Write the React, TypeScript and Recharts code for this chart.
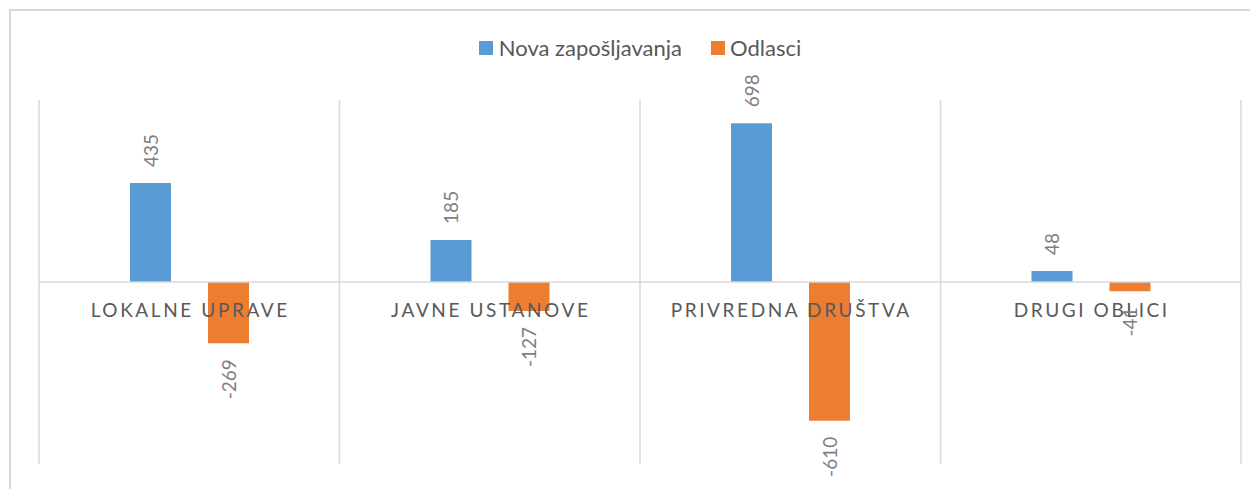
import React from 'react';
import { BarChart, Bar, XAxis, YAxis, CartesianGrid, Legend, LabelList, ReferenceLine } from 'recharts';

const categories = ['LOKALNE UPRAVE', 'JAVNE USTANOVE', 'PRIVREDNA DRUŠTVA', 'DRUGI OBLICI'];
const novaZaposljavanja = [435, 185, 698, 48];
const odlasci = [-269, -127, -610, -41];

const data = categories.map((name, i) => ({
  name,
  nova: novaZaposljavanja[i],
  odlasci: odlasci[i],
}));

const BLUE = '#5b9bd5';
const ORANGE = '#ed7d31';
const GRID = '#d9d9d9';
const FONT = 'Lato, "Open Sans", sans-serif';

const PLOT_H = 364;

const CategoryTick = (props: any) => {
  const { x, y, payload } = props;
  return (
    <text
      x={x + 1}
      y={y - PLOT_H / 2 + 35}
      textAnchor="middle"
      fill="#595959"
      fontSize={19}
      fontFamily={FONT}
      letterSpacing={2.6}
    >
      {payload.value}
    </text>
  );
};

const ValueLabel = (props: any) => {
  const { x, y, width, height, value } = props;
  const cx = x + width / 2;
  const top = Math.min(y, y + height);
  const bottom = Math.max(y, y + height);
  const pos = value >= 0;
  const ly = pos ? top - 16 : bottom + 16;
  return (
    <text
      x={cx}
      y={ly}
      transform={`rotate(-90 ${cx} ${ly})`}
      textAnchor={pos ? 'start' : 'end'}
      dominantBaseline="central"
      fill="#7f7f7f"
      fontSize={19}
      fontFamily={FONT}
    >
      {value}
    </text>
  );
};

const LegendContent = () => (
  <div style={{ display: 'flex', justifyContent: 'center', alignItems: 'center', fontFamily: FONT, fontSize: 22, color: '#595959', lineHeight: '26px' }}>
    <span style={{ display: 'inline-block', width: 14, height: 14, background: BLUE, marginRight: 6 }} />
    <span style={{ marginRight: 29 }}>Nova zapošljavanja</span>
    <span style={{ display: 'inline-block', width: 14, height: 14, background: ORANGE, marginRight: 5 }} />
    <span>Odlasci</span>
  </div>
);

const App: React.FC = () => (
  <div style={{ padding: 1 }}>
    <div style={{ width: 1250, height: 480, border: `2px solid ${GRID}`, background: '#fff' }}>
      <BarChart
        width={1250}
        height={478}
        data={data}
        margin={{ top: 89, right: 20, bottom: 0, left: 28 }}
        barSize={41}
        barGap={37}
      >
        <CartesianGrid
          horizontal={false}
          stroke={GRID}
          strokeWidth={1.5}
          verticalCoordinatesGenerator={({ offset }: any) =>
            categories.map((_, i) => offset.left + (offset.width * i) / categories.length).concat(offset.left + offset.width)
          }
        />
        <XAxis
          dataKey="name"
          axisLine={false}
          tickLine={false}
          tickSize={0}
          tickMargin={0}
          height={25}
          interval={0}
          tick={<CategoryTick />}
        />
        <YAxis hide domain={[-800, 800]} />
        <Legend verticalAlign="middle" align="center" layout="horizontal" wrapperStyle={{ top: 24 }} content={<LegendContent />} />
        <Bar dataKey="nova" name="Nova zapošljavanja" fill={BLUE} isAnimationActive={false}>
          <LabelList dataKey="nova" content={<ValueLabel />} />
        </Bar>
        <Bar dataKey="odlasci" name="Odlasci" fill={ORANGE} isAnimationActive={false}>
          <LabelList dataKey="odlasci" content={<ValueLabel />} />
        </Bar>
        <ReferenceLine y={0} stroke={GRID} strokeWidth={1.5} />
      </BarChart>
    </div>
  </div>
);

export default App;
